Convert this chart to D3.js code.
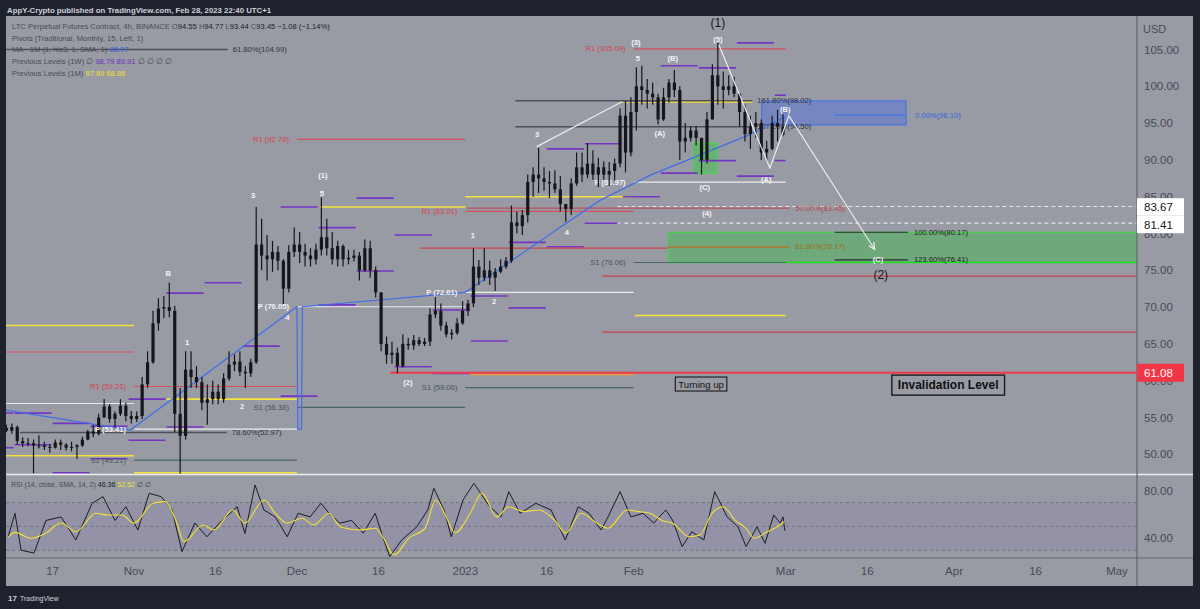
<!DOCTYPE html>
<html><head><meta charset="utf-8">
<script src="https://cdn.jsdelivr.net/npm/d3@7"></script>
<style>html,body{margin:0;padding:0;background:#1e222d;}svg{display:block;font-family:'Liberation Sans',Arial,sans-serif;}</style>
</head><body><svg id="c" width="1200" height="609"></svg>
<script>
// ---------------- DATA ----------------
const candleStart = "2022-10-08";
// daily [open, high, low, close]
const ohlc = [
[53.6,54.0,53.0,53.2],[53.2,54.2,52.8,53.7],[53.7,53.9,51.3,51.8],[51.8,52.3,51.0,51.5],[51.5,52.2,51.1,51.5],
[51.5,52.0,47.4,51.2],[51.2,52.6,50.8,51.2],[51.2,51.7,50.6,51.0],[51.0,51.4,50.2,50.9],[50.9,52.0,50.8,51.6],
[51.6,52.0,50.6,51.3],[51.3,51.5,50.5,50.9],[50.9,51.7,50.4,51.0],[51.0,51.4,49.4,51.2],[51.2,52.4,51.0,52.0],
[52.0,53.3,51.9,53.1],[53.1,54.0,52.3,52.8],[52.8,55.5,52.6,55.0],[55.0,57.5,55.0,56.5],[56.5,56.8,54.3,54.8],
[54.8,55.8,53.7,55.5],[55.5,57.5,55.2,56.6],[56.6,57.0,54.5,55.2],[55.2,55.9,54.2,54.8],
[54.8,55.8,54.4,55.2],[55.2,60.5,54.8,59.5],[59.5,64.0,59.0,62.5],[62.5,69.5,62.3,67.8],[67.8,71.2,66.8,69.8],
[69.8,71.5,68.5,70.0],[70.0,73.3,68.6,69.5],[69.5,70.2,53.0,55.5],[55.5,59.0,47.3,52.5],[52.5,64.0,52.0,61.5],
[61.5,64.0,59.0,60.5],[60.5,62.0,59.0,59.8],[59.8,60.5,56.0,57.0],[57.0,59.5,54.0,57.5],[57.5,60.0,56.8,58.5],
[58.5,59.5,56.8,57.5],[57.5,61.0,57.0,60.3],[60.3,64.0,60.0,62.2],[62.2,63.6,61.3,62.6],[62.6,64.0,60.6,61.2],
[61.2,62.0,59.0,61.0],[61.0,63.0,60.5,62.5],[62.5,83.6,62.3,78.5],[78.5,82.0,75.0,77.0],[77.0,79.8,73.6,76.5],
[76.5,79.0,74.8,77.5],[77.5,78.3,75.0,76.3],[76.3,76.5,70.4,72.5],[72.5,78.4,72.0,77.5],[77.5,80.8,76.8,78.5],
[78.5,80.2,76.0,77.5],[77.5,78.6,75.5,77.0],[77.0,78.0,75.5,76.5],[76.5,78.6,75.8,77.8],[77.8,84.9,77.0,79.5],
[79.5,82.0,77.0,78.0],[78.0,80.2,75.8,76.5],[76.5,79.0,75.5,78.3],[78.3,78.5,75.5,76.5],[76.5,77.8,75.8,76.7],
[76.7,77.8,76.2,77.0],[77.0,77.5,73.6,75.0],[75.0,79.2,74.8,78.0],[78.0,79.0,74.0,75.0],[75.0,75.5,71.3,72.0],
[72.0,72.0,64.0,65.0],[65.0,66.0,62.3,63.5],[63.5,65.3,62.3,63.8],[63.8,64.5,61.0,62.0],[62.0,66.3,61.8,65.0],
[65.0,65.8,64.2,64.8],[64.8,66.2,64.2,65.5],[65.5,65.9,64.7,65.0],[65.0,65.8,64.7,65.3],[65.3,69.8,64.7,69.0],
[69.0,71.5,68.5,69.5],[69.5,70.5,66.8,67.5],[67.5,68.0,65.9,66.3],[66.3,67.0,65.6,66.5],[66.5,68.5,66.2,67.8],
[67.8,70.8,67.6,69.5],
[69.5,71.0,68.8,70.5],[70.5,78.0,70.0,75.5],[75.5,76.4,73.0,74.0],[74.0,78.0,73.5,75.0],[75.0,76.3,73.0,74.0],
[74.0,75.3,72.2,74.8],[74.8,76.5,74.6,75.5],[75.5,76.8,75.2,76.3],[76.3,83.8,76.0,81.5],[81.5,83.0,80.0,81.0],
[81.0,83.2,79.8,82.5],[82.5,88.0,81.5,87.0],[87.0,89.0,85.0,88.0],[88.0,91.6,85.5,87.5],[87.5,89.0,85.8,87.0],
[87.0,88.5,84.8,86.8],[86.8,88.6,85.5,86.0],[86.0,87.8,83.0,84.0],[84.0,84.0,81.6,83.3],[83.3,87.5,82.5,86.8],
[86.8,91.0,86.5,89.0],[89.0,91.0,87.0,88.0],[88.0,92.3,87.5,89.5],[89.5,91.3,87.3,88.0],[88.0,90.3,86.3,89.0],
[89.0,89.8,87.3,88.0],[88.0,89.7,86.5,88.5],[88.5,90.2,87.2,89.5],[89.5,97.0,89.0,96.0],[96.0,98.0,88.3,91.0],
[91.0,98.5,90.5,96.5],
[96.5,102.6,94.0,100.0],[100.0,102.8,97.5,99.5],[99.5,101.0,97.0,99.0],[99.0,100.5,97.5,98.5],[98.5,99.0,94.8,95.5],
[95.5,99.8,95.3,98.5],[98.5,101.0,97.8,100.5],[100.5,102.2,98.5,99.5],[99.5,100.0,90.0,92.5],[92.5,95.0,91.0,93.0],
[93.0,94.6,92.5,94.0],[94.0,94.6,92.0,93.0],[93.0,93.0,88.0,90.0],[90.0,96.5,89.5,95.5],[95.5,103.0,95.5,101.5],
[101.5,105.9,97.5,100.0],[100.0,102.0,97.0,99.5],[99.5,101.5,98.8,100.0],[100.0,101.3,98.5,99.0],[99.0,99.0,94.5,96.5],
[96.5,97.5,92.5,93.5],[93.5,96.0,91.5,94.5],[94.5,96.5,93.0,95.0],[95.0,95.5,90.0,91.0],[91.0,92.6,89.8,91.5],
[91.5,96.0,91.3,95.0],[95.0,96.8,92.5,94.5],[94.5,96.2,93.2,93.45]
];
const maLine = [["2022-10-08 10",56.0],["2022-10-31 08",53.3],["2022-12-01 00",70.05],["2022-12-01 04",53.41],["2022-12-01 20",53.41],["2022-12-02 00",70.05],["2023-01-01 00",72.01],["2023-01-18 10",80.8],["2023-01-25 19",84.5],["2023-02-04 00",87.9],["2023-02-21 22",93.3],["2023-02-28 20",95.8]];
const pivotR1 = [["2022-10-01","2022-11-01",63.9],["2022-11-01","2022-12-01",59.21],["2022-12-01","2023-01-01",92.79],["2023-01-01","2023-02-01",83.01],["2023-02-01","2023-03-01",105.09]];
const pivotP  = [["2022-10-01","2022-11-01",56.9],["2022-11-01","2022-12-01",53.41],["2022-12-01","2023-01-01",70.05],["2023-01-01","2023-02-01",72.01],["2023-02-01","2023-03-01",86.97]];
const pivotS1 = [["2022-11-01","2022-12-01",49.21],["2022-12-01","2023-01-01",56.38],["2023-01-01","2023-02-01",59.06],["2023-02-01","2023-03-01",76.06]];
const monthPrevHigh = [["2022-10-01","2022-11-01",67.5],["2022-11-07","2022-12-01",57.5],["2022-12-05 06","2023-01-01",83.6],["2023-01-01","2023-02-01",85.0],["2023-01-29 22","2023-02-22 20",97.89]];
const monthPrevLow = [["2022-10-01","2022-11-01",49.8],["2022-11-01","2022-12-01",47.5],["2023-02-01 04","2023-03-01",68.86]];
const monthPrevLowOrange = [["2023-01-02","2023-02-01",60.85]];
// weekly previous high / low
const weekStarts = ["2022-10-03","2022-10-10","2022-10-17","2022-10-24","2022-10-31","2022-11-07","2022-11-14","2022-11-21","2022-11-28","2022-12-05","2022-12-12","2022-12-19","2022-12-26","2023-01-02","2023-01-09","2023-01-16","2023-01-23","2023-01-30","2023-02-06","2023-02-13","2023-02-20","2023-02-27"];
const weekHigh = [55.6,55.6,54.2,53.8,57.5,71.9,73.3,64.7,83.6,80.8,84.8,79.8,69.6,71.5,78.8,91.5,92.2,98.0,102.8,102.5,105.9,98.79];
const weekLow  = [50.9,51.3,47.5,49.4,51.9,53.7,null,null,57.9,70.3,74.9,61.9,61.0,65.4,69.9,78.2,81.4,85.0,88.2,89.9,87.8,89.91];
const redLines = [["2022-12-23 16","2023-02-07 08",78.0]];
const redRays = [["2023-01-26 04",74.2],["2023-01-26 04",66.6]];
const invalidation = ["2022-12-18 04",61.08];
const dashedRays = [["2023-01-29 00",83.67],["2023-01-29 00",81.41]];
const fibGray = [["2022-10-08 00","2022-11-18 06",104.99,"61.80%(104.99)"],["2022-10-11 00","2022-11-18 02",52.97,"78.60%(52.97)"],["2023-01-10 05","2023-02-22 20",98.02,"161.80%(98.02)"],["2023-01-10 05","2023-02-22 20",94.50,"127.20%(94.50)"]];
const fibColored = [["2023-01-01 08","2023-03-01 16",83.45,"50.00%(83.45)"],["2023-02-07 08","2023-03-01 16",78.17,"61.80%(78.17)"]];
const fibFuture = [["2023-03-10 00","2023-03-23 12",80.17,"100.00%(80.17)"],["2023-03-10 00","2023-03-23 12",76.41,"123.60%(76.41)"]];
const fibBlue = ["2023-03-10 00","2023-03-23 04",96.10,"0.00%(96.10)"];
const blueBox = ["2023-02-24 14","2023-03-23 04",98.02,94.75];
const greenZone = ["2023-02-07 08",80.17,76.06];
const greenBox = ["2023-02-12 02","2023-02-16 08",92.3,88.2];
const trendLine = [["2023-01-14 04",91.8],["2023-01-29 20",97.9]];
const zigzag = [["2023-02-16 17",105.6],["2023-02-26 02",88.9],["2023-03-01 14",96.0],["2023-03-17 10",77.8]];
const waveLabels = [["2022-11-07 07",74.6,"B"],["2022-11-10 19",65.2,"1"],["2022-11-20 22",56.5,"2"],["2022-11-22 22",85.2,"3"],["2022-11-29 06",68.6,"4"],["2022-12-05 14",85.5,"5"],["2022-12-05 19",87.9,"(1)"],["2022-12-21 10",59.8,"(2)"],["2023-01-02 10",79.7,"1"],["2023-01-06 07",70.7,"2"],["2023-01-14 05",93.5,"3"],["2023-01-19 17",80.2,"4"],["2023-02-01 19",103.8,"5"],["2023-02-01 10",106.0,"(3)"],["2023-02-08 05",103.8,"(B)"],["2023-02-05 19",93.6,"(A)"],["2023-02-14 02",86.2,"(C)"],["2023-02-14 12",82.7,"(4)"],["2023-02-16 12",106.4,"(5)"],["2023-02-25 10",87.4,"(A)"],["2023-02-28 22",96.9,"(B)"],["2023-03-18 00",76.4,"(C)"]];
const bigLabels = [["2023-02-16 12",108.6,"(1)"],["2023-03-18 12",74.3,"(2)"]];
const notes = [["2023-02-13 10",59.55,"Turning up"],["2023-03-30 22",59.4,"Invalidation Level"]];
const rsi = [["2022-10-08 20",41.4],["2022-10-10 02",61],["2022-10-11 05",30],["2022-10-13 14",27.6],["2022-10-15 19",55],["2022-10-18 14",58],["2022-10-21 07",38.6],["2022-10-24 07",69.4],["2022-10-26 07",75],["2022-10-28 12",55],["2022-10-30 12",66.5],["2022-11-01 17",47],["2022-11-03 19",77.8],["2022-11-06 00",75],["2022-11-08 00",64],["2022-11-09 20",28.8],["2022-11-12 05",52.8],["2022-11-14 10",41.3],["2022-11-17 05",55],["2022-11-20 00",66.5],["2022-11-21 10",44],["2022-11-23 07",84.8],["2022-11-24 22",63.8],["2022-11-27 00",58],["2022-11-29 05",41.3],["2022-12-01 05",61],["2022-12-03 10",58],["2022-12-05 10",69.4],["2022-12-06 22",61],["2022-12-08 22",52.8],["2022-12-11 02",55],["2022-12-13 05",44.4],["2022-12-15 10",61],["2022-12-16 19",41.3],["2022-12-18 02",24.6],["2022-12-20 07",38.6],["2022-12-23 02",49.7],["2022-12-25 02",63.8],["2022-12-26 05",82],["2022-12-28 02",63.8],["2022-12-29 10",41.3],["2022-12-31 14",72.2],["2023-01-02 14",86.2],["2023-01-05 12",66.5],["2023-01-07 14",58],["2023-01-09 00",79.2],["2023-01-11 02",61],["2023-01-14 00",69.4],["2023-01-16 19",63.8],["2023-01-19 10",38.6],["2023-01-21 19",66.5],["2023-01-23 19",61],["2023-01-26 00",47],["2023-01-27 07",58],["2023-01-29 12",79.2],["2023-01-31 12",58],["2023-02-02 17",61],["2023-02-04 17",52.8],["2023-02-06 22",63.8],["2023-02-08 05",55],["2023-02-09 22",33],["2023-02-11 17",45.5],["2023-02-13 22",38.6],["2023-02-15 22",79.2],["2023-02-18 05",58],["2023-02-20 05",49.7],["2023-02-21 17",33],["2023-02-23 17",49.7],["2023-02-25 05",35.8],["2023-02-26 19",59.6],["2023-02-28 00",52.7],["2023-02-28 12",58],["2023-02-28 20",46.4]];
const rsiSma = [["2022-10-08 20",41],["2022-10-10 02",45],["2022-10-13 00",40],["2022-10-15 19",44.4],["2022-10-18 14",52.8],["2022-10-21 07",45.5],["2022-10-25 00",61],["2022-10-27 00",59.6],["2022-10-29 19",59.6],["2022-11-01 00",52.8],["2022-11-04 12",69.4],["2022-11-06 17",70.8],["2022-11-08 17",55],["2022-11-10 05",37.2],["2022-11-13 17",51.2],["2022-11-15 17",47],["2022-11-19 05",63.8],["2022-11-21 10",52.8],["2022-11-24 22",72.2],["2022-11-27 00",61],["2022-11-29 05",52.8],["2022-12-01 22",56.8],["2022-12-04 02",51.2],["2022-12-06 22",61],["2022-12-08 22",49.7],["2022-12-12 14",47],["2022-12-15 10",48.4],["2022-12-16 19",41.3],["2022-12-18 22",26],["2022-12-21 14",40],["2022-12-24 14",48.4],["2022-12-26 14",72.2],["2022-12-28 19",55],["2022-12-30 02",44.4],["2023-01-01 22",61],["2023-01-04 02",77.8],["2023-01-06 19",58],["2023-01-09 00",66.5],["2023-01-11 19",62.4],["2023-01-14 14",63.8],["2023-01-17 12",55],["2023-01-19 12",44.4],["2023-01-22 07",61],["2023-01-25 07",52.7],["2023-01-27 07",48.4],["2023-01-30 19",63.8],["2023-02-02 00",62.4],["2023-02-04 00",61],["2023-02-06 05",55],["2023-02-08 05",52.7],["2023-02-11 05",41.3],["2023-02-13 05",42.7],["2023-02-15 10",61],["2023-02-17 12",66.5],["2023-02-19 17",55],["2023-02-21 17",48.4],["2023-02-23 05",40],["2023-02-25 05",44.4],["2023-02-27 10",49.7],["2023-02-28 17",53.9]];
const priceTicks = [50,55,60,65,70,75,80,85,90,95,100,105];
const rsiTicks = [40,80];
const rsiLevels = [30,50,70];
const timeTicks = [["2022-10-17","17"],["2022-11-01","Nov"],["2022-11-16","16"],["2022-12-01","Dec"],["2022-12-16","16"],["2023-01-01","2023"],["2023-01-16","16"],["2023-02-01","Feb"],["2023-03-01","Mar"],["2023-03-16","16"],["2023-04-01","Apr"],["2023-04-16","16"],["2023-05-01","May"]];
const lightBadges = [83.67,81.41];
const redBadge = 61.08;

// ---------------- LAYOUT ----------------
const L=6, R=1137, T=16, PB=474, RT=475, RB=558, AB=586, FR=1193;
const BG="#999ba4", DARK="#1e222d";
const pd = s => { const p=s.split(" "); const d=new Date(p[0]+"T00:00:00Z"); if(p[1]) d.setUTCHours(+p[1]); return d; };
const x = d3.scaleUtc().domain([pd("2022-11-01"),pd("2023-05-01")]).range([134,1117]);
const y = d3.scaleLinear().domain([50,105]).range([454.3,49.5]);
const yr = d3.scaleLinear().domain([40,80]).range([538.3,490.7]);
const svg = d3.select("#c");
svg.append("rect").attr("width",1200).attr("height",609).attr("fill",DARK);
svg.append("rect").attr("x",L).attr("y",T).attr("width",FR-L).attr("height",AB-T).attr("fill",BG);
svg.append("text").attr("x",7).attr("y",10.5).attr("dominant-baseline","central").attr("font-size",7.8).attr("font-weight",600).attr("fill","#d1d4dc").text("AppY-Crypto published on TradingView.com, Feb 28, 2023 22:40 UTC+1");
const defs = svg.append("defs");
defs.append("clipPath").attr("id","pc").append("rect").attr("x",L).attr("y",T).attr("width",R-L).attr("height",PB-T);
defs.append("clipPath").attr("id","rc").append("rect").attr("x",L).attr("y",RT).attr("width",R-L).attr("height",RB-RT);
defs.append("marker").attr("id","arr").attr("viewBox","0 0 10 10").attr("refX",9).attr("refY",5).attr("markerWidth",7).attr("markerHeight",7).attr("orient","auto")
  .append("path").attr("d","M0,1 L9,5 L0,9").attr("fill","none").attr("stroke","#f2f2f2").attr("stroke-width",1.4);

const g = svg.append("g").attr("clip-path","url(#pc)");
function seg(x1,x2,p,col,w,dash){ const l=g.append("line").attr("x1",x1).attr("x2",x2).attr("y1",y(p)).attr("y2",y(p)).attr("stroke",col).attr("stroke-width",w||1); if(dash) l.attr("stroke-dasharray",dash); return l; }
function txt(sel,xx,yy,s,col,fs,anchor,weight){ return sel.append("text").attr("x",xx).attr("y",yy).attr("dominant-baseline","central").attr("text-anchor",anchor||"start").attr("font-size",fs).attr("font-weight",weight||400).attr("fill",col).text(s); }

// zones
g.append("rect").attr("x",x(pd(greenZone[0]))).attr("y",y(greenZone[1])).attr("width",R-x(pd(greenZone[0]))).attr("height",y(greenZone[2])-y(greenZone[1])).attr("fill","rgba(60,185,70,0.45)").attr("stroke","#3ddc3d").attr("stroke-width",1);
seg(x(pd(greenZone[0])),R,greenZone[2],"#1fe01f",1.5);
g.append("rect").attr("x",x(pd(blueBox[0]))).attr("y",y(blueBox[2])).attr("width",x(pd(blueBox[1]))-x(pd(blueBox[0]))).attr("height",y(blueBox[3])-y(blueBox[2])).attr("fill","rgba(60,100,235,0.38)").attr("stroke","#3b6ef0").attr("stroke-width",1);
g.append("rect").attr("x",x(pd(greenBox[0]))).attr("y",y(greenBox[2])).attr("width",x(pd(greenBox[1]))-x(pd(greenBox[0]))).attr("height",y(greenBox[3])-y(greenBox[2])).attr("fill","rgba(60,200,70,0.5)").attr("stroke","#3ddc3d").attr("stroke-width",1);

// monthly pivots
pivotR1.forEach(d=>seg(x(pd(d[0])),x(pd(d[1])),d[2],"#d4505c",1.2));
pivotP.forEach(d=>seg(x(pd(d[0])),x(pd(d[1])),d[2],"#ececec",1.2));
pivotS1.forEach(d=>seg(x(pd(d[0])),x(pd(d[1])),d[2],"#4c6567",1.2));
monthPrevHigh.forEach(d=>seg(x(pd(d[0])),x(pd(d[1])),d[2],"#f4e23a",1.6));
monthPrevLow.forEach(d=>seg(x(pd(d[0])),x(pd(d[1])),d[2],"#f4e23a",1.6));
monthPrevLowOrange.forEach(d=>seg(x(pd(d[0])),x(pd(d[1])),d[2],"#f29a3a",1.6));
// weekly
weekStarts.forEach((w,i)=>{ const a=Math.max(L,x(pd(w))), b=Math.min(x(d3.utcDay.offset(pd(w),7)),x(pd("2023-03-01"))+1)-1;
  seg(a,b,weekHigh[i],"#7434c4",1.6); if(weekLow[i]!=null) seg(a,b,weekLow[i],"#7434c4",1.6); });
redLines.forEach(d=>seg(x(pd(d[0])),x(pd(d[1])),d[2],"#d0434d",1.2));
redRays.forEach(d=>seg(x(pd(d[0])),R,d[1],"#c9434d",1.2));
seg(x(pd(invalidation[0])),R,invalidation[1],"#f0384a",1.8);
dashedRays.forEach(d=>seg(x(pd(d[0])),R,d[1],"#e8e8e8",1.2,"4,3"));
fibGray.forEach(d=>{ seg(x(pd(d[0])),x(pd(d[1])),d[2],"#4e5159",1.5); });
fibColored.forEach((d,i)=>seg(x(pd(d[0])),x(pd(d[1])),d[2],i?"#a9782e":"#b9505a",1.4));
fibFuture.forEach(d=>seg(x(pd(d[0])),x(pd(d[1])),d[2],"#2a2c33",1.2));
seg(x(pd(fibBlue[0])),x(pd(fibBlue[1])),fibBlue[2],"#3b6ef0",1.2);

// labels partly hidden by the price series in the reference
const FS=7.6;
txt(g,x(pd(pivotP[4][0]))-8,y(pivotP[4][2]),"P ("+pivotP[4][2].toFixed(2)+")","#f4f4f4",FS,"end",600);
fibGray.forEach(d=>txt(g,x(pd(d[1]))+5,y(d[2]),d[3],"#2e3038",FS));

// MA line
g.append("path").datum(maLine).attr("fill","none").attr("stroke","#3f6ee8").attr("stroke-width",1.2)
  .attr("d",d3.line().x(d=>x(pd(d[0]))).y(d=>y(d[1])));

// candles
const c0 = pd(candleStart);
const cg = g.append("g");
ohlc.forEach((d,i)=>{ const t=d3.utcHour.offset(d3.utcDay.offset(c0,i),12); const cx=x(t);
  cg.append("line").attr("x1",cx).attr("x2",cx).attr("y1",y(d[1])).attr("y2",y(d[2])).attr("stroke","#15161a").attr("stroke-width",1.2);
  const top=y(Math.max(d[0],d[3])), bot=y(Math.min(d[0],d[3]));
  cg.append("rect").attr("x",cx-1.6).attr("width",3.2).attr("y",top).attr("height",Math.max(1,bot-top)).attr("fill","#15161a"); });

// pivot labels
pivotR1.slice(1).forEach(d=>txt(g,x(pd(d[0]))-8,y(d[2]),"R1 ("+d[2].toFixed(2)+")","#d8414f",FS,"end"));
pivotP.slice(1,4).forEach(d=>txt(g,x(pd(d[0]))-8,y(d[2]),"P ("+d[2].toFixed(2)+")","#f4f4f4",FS,"end",600));
pivotS1.forEach(d=>txt(g,x(pd(d[0]))-8,y(d[2]),"S1 ("+d[2].toFixed(2)+")",d[0]==="2023-02-01"?"#4e5159":"#3f5659",FS,"end"));

// white drawings
g.append("path").datum(trendLine).attr("fill","none").attr("stroke","#ececec").attr("stroke-width",1.2).attr("d",d3.line().x(d=>x(pd(d[0]))).y(d=>y(d[1])));
g.append("path").datum(zigzag).attr("fill","none").attr("stroke","#f2f2f2").attr("stroke-width",1.1).attr("marker-end","url(#arr)").attr("d",d3.line().x(d=>x(pd(d[0]))).y(d=>y(d[1])));

// drawing labels
fibColored.forEach((d,i)=>txt(g,x(pd(d[1]))+6,y(d[2]),d[3],i?"#9a6c22":"#b8434e",FS));
fibFuture.forEach(d=>txt(g,x(pd(d[1]))+6,y(d[2]),d[3],"#1c1e24",FS));
txt(g,x(pd(fibBlue[1]))+9,y(fibBlue[2]),fibBlue[3],"#2f62e0",FS);
waveLabels.forEach(d=>txt(g,x(pd(d[0])),y(d[1]),d[2],"#f4f4f4",7.6,"middle",700));
bigLabels.forEach(d=>txt(g,x(pd(d[0])),y(d[1]),d[2],"#15161a",12,"middle"));
notes.forEach((d,i)=>{ const fs=i?12:9.6; const t=txt(g,x(pd(d[0])),y(d[1]),d[2],"#111",fs,"middle",i?600:500);
  const w=t.node().getComputedTextLength()+(i?12:6), h=i?20:14;
  g.insert("rect",()=>t.node()).attr("x",x(pd(d[0]))-w/2).attr("y",y(d[1])-h/2).attr("width",w).attr("height",h).attr("fill","none").attr("stroke","#1a1a1a").attr("stroke-width",i?1.4:1.1); });

// legend
const lg = svg.append("g").attr("font-size",7.6);
function leg(yy, parts){ const t=lg.append("text").attr("x",12).attr("y",yy).attr("dominant-baseline","central"); parts.forEach(p=>t.append("tspan").attr("fill",p[1]).text(p[0])); }
const LC="#474a53", VC="#1c1e25";
leg(26,[["LTC Perpetual Futures Contract, 4h, BINANCE  ",LC],["O",LC],["94.55 ",VC],["H",LC],["94.77 ",VC],["L",LC],["93.44 ",VC],["C",LC],["93.45 ",VC],["−1.08 (−1.14%)",VC]]);
leg(37.5,[["Pivots (Traditional, Monthly, 15, Left, 1)",LC]]);
leg(49,[["MA · 1M (1, hlc3, 1, SMA, 1) ",LC],["86.97","#2f62e0"]]);
leg(61,[["Previous Levels (1W)  ∅ ",LC],["98.79 89.91","#6a2fbf"],["  ∅  ∅  ∅  ∅",LC]]);
leg(72.5,[["Previous Levels (1M)  ",LC],["97.89 68.86","#f2e02c"]]);

// RSI pane
svg.append("rect").attr("x",L).attr("y",yr(70)).attr("width",R-L).attr("height",yr(30)-yr(70)).attr("fill","rgba(105,80,190,0.12)");
rsiLevels.forEach(v=>svg.append("line").attr("x1",L).attr("x2",R).attr("y1",yr(v)).attr("y2",yr(v)).attr("stroke","#6f727c").attr("stroke-width",1).attr("stroke-dasharray","3,3"));
const rg = svg.append("g").attr("clip-path","url(#rc)");
rg.append("path").datum(rsi).attr("fill","none").attr("stroke","#1b1c20").attr("stroke-width",1).attr("d",d3.line().x(d=>x(pd(d[0]))).y(d=>yr(d[1])));
rg.append("path").datum(rsiSma).attr("fill","none").attr("stroke","#f3e22e").attr("stroke-width",1.1).attr("d",d3.line().curve(d3.curveMonotoneX).x(d=>x(pd(d[0]))).y(d=>yr(d[1])));
const rl = svg.append("text").attr("x",11).attr("y",484).attr("dominant-baseline","central").attr("font-size",7);
[["RSI (14, close, SMA, 14, 2) ",LC],["46.36 ",VC],["52.52","#f2e02c"],["  ∅  ∅",LC]].forEach(p=>rl.append("tspan").attr("fill",p[1]).text(p[0]));

// separators
svg.append("line").attr("x1",L).attr("x2",FR).attr("y1",474.5).attr("y2",474.5).attr("stroke","#eeeeee").attr("stroke-width",1.3);
svg.append("line").attr("x1",L).attr("x2",FR).attr("y1",RB).attr("y2",RB).attr("stroke","#62656f").attr("stroke-width",1.2);
svg.append("line").attr("x1",R).attr("x2",R).attr("y1",T).attr("y2",AB).attr("stroke","#62656f").attr("stroke-width",1.2);

// axes
const AX="#474a54";
priceTicks.forEach(v=>txt(svg,1144,y(v),v.toFixed(2),AX,11.5));
txt(svg,1143,29,"USD",AX,11);
rsiTicks.forEach(v=>txt(svg,1144,yr(v),v.toFixed(2),AX,11.5));
timeTicks.forEach(d=>txt(svg,x(pd(d[0])),571,d[1],AX,11.5,"middle"));
// badges
lightBadges.forEach((v,i)=>{ const cy=207+i*17.5; svg.append("rect").attr("x",R).attr("y",cy-8.8).attr("width",47).attr("height",17.5).attr("fill","#ffffff");
  txt(svg,1144,cy,v.toFixed(2),"#131722",11.5); });
svg.append("rect").attr("x",R).attr("y",y(redBadge)-9).attr("width",47).attr("height",18).attr("fill","#f23645");
txt(svg,1144,y(redBadge),redBadge.toFixed(2),"#ffffff",11.5);

// footer
txt(svg,8,598,"17","#d1d4dc",8,"start",900);
txt(svg,20,598,"TradingView","#d1d4dc",7,"start",400);
</script></body></html>
